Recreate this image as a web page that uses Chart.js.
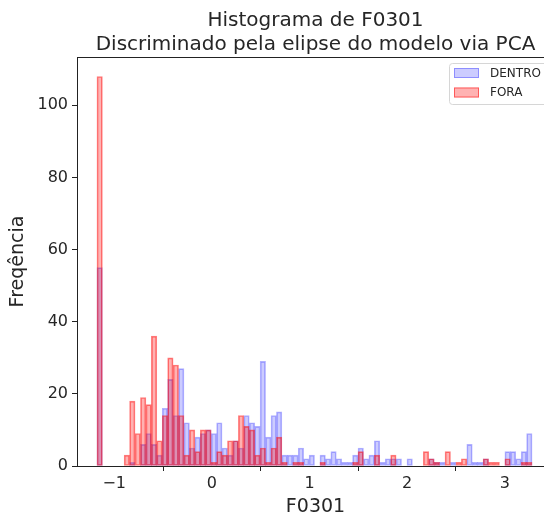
<!DOCTYPE html>
<html>
<head>
<meta charset="utf-8">
<script src="https://cdn.jsdelivr.net/npm/chart.js@4.4.1/dist/chart.umd.min.js"></script>
<style>
  html, body { margin: 0; padding: 0; overflow: hidden; background: #fff; }
  #wrap { width: 570px; height: 518px; }
</style>
</head>
<body>
<div id="wrap"><canvas id="stage"></canvas></div>
<script>
//「classes do histograma」 80 bins
var binStart = -1.1766;
var binWidth = 0.0557;

var dentro = [
  55, 0, 0, 0, 0, 0, 1, 0, 6, 9,
  6, 3, 16, 24, 14, 27, 12, 5, 8, 9,
  10, 9, 12, 5, 3, 7, 5, 14, 12, 11,
  29, 8, 14, 15, 3, 3, 3, 5, 2, 3,
  0, 3, 2, 4, 2, 1, 1, 3, 5, 2,
  3, 7, 1, 2, 2, 2, 0, 2, 0, 0,
  0, 2, 1, 1, 0, 1, 0, 0, 6, 1,
  1, 2, 0, 0, 0, 4, 4, 2, 4, 9
];
var fora = [
  108, 0, 0, 0, 0, 3, 18, 9, 19, 17,
  36, 7, 14, 30, 28, 14, 3, 10, 4, 10,
  10, 1, 4, 3, 7, 7, 14, 11, 10, 3,
  5, 1, 5, 8, 1, 0, 1, 1, 0, 0,
  0, 1, 0, 0, 0, 0, 0, 1, 4, 0,
  0, 3, 0, 0, 3, 0, 0, 0, 0, 0,
  4, 2, 1, 0, 4, 0, 1, 2, 0, 0,
  0, 2, 1, 1, 0, 2, 0, 0, 1, 1
];
var xTicks = [-1, 0, 1, 2, 3];
var yTicks = [0, 20, 40, 60, 80, 100];

// centro de cada classe
var centros = dentro.map(function (_, i) {
  return +(binStart + binWidth * (i + 0.5)).toFixed(4);
});

var fonte = '"DejaVu Sans", sans-serif';
var corTexto = '#262626';

// legenda no canto superior direito, dentro do grafico
var legendaBox = {
  id: 'legendaBox',
  afterDraw: function (chart) {
    var ctx = chart.ctx, a = chart.chartArea;
    var w = 99, h = 41;
    var x0 = a.right - 6 - w, y0 = a.top + 6;
    ctx.save();
    ctx.fillStyle = 'rgba(255,255,255,0.8)';
    ctx.strokeStyle = '#d6d6d6';
    ctx.lineWidth = 1;
    ctx.beginPath();
    ctx.roundRect(x0 + 0.5, y0 + 0.5, w, h, 3);
    ctx.fill();
    ctx.stroke();
    ctx.font = '12px ' + fonte;
    ctx.textBaseline = 'middle';
    chart.data.datasets.forEach(function (ds, i) {
      var sy = y0 + 5 + i * 19.5;
      ctx.fillStyle = ds.backgroundColor;
      ctx.fillRect(x0 + 5, sy, 25, 10);
      ctx.strokeStyle = ds.borderColor;
      ctx.strokeRect(x0 + 5.5, sy + 0.5, 24, 9);
      ctx.fillStyle = corTexto;
      ctx.fillText(ds.label, x0 + 41, sy + 5.5);
    });
    ctx.restore();
  }
};

// moldura superior e direita
var moldura = {
  id: 'moldura',
  afterDraw: function (chart) {
    var ctx = chart.ctx, a = chart.chartArea;
    ctx.save();
    ctx.strokeStyle = '#222';
    ctx.lineWidth = 1;
    ctx.beginPath();
    ctx.moveTo(a.left, Math.round(a.top) + 0.5);
    ctx.lineTo(Math.round(a.right) + 0.5, Math.round(a.top) + 0.5);
    ctx.lineTo(Math.round(a.right) + 0.5, a.bottom);
    ctx.stroke();
    ctx.restore();
  }
};

var canvas = document.getElementById('stage');
var chart = new Chart(canvas, {
  type: 'bar',
  data: {
    labels: centros,
    datasets: [
      {
        label: 'DENTRO',
        data: dentro,
        backgroundColor: 'rgba(0, 0, 255, 0.2)',
        borderColor: 'rgba(0, 0, 255, 0.3)',
        borderWidth: 1,
        borderSkipped: false,
        order: 1
      },
      {
        label: 'FORA',
        data: fora,
        backgroundColor: 'rgba(255, 0, 0, 0.3)',
        borderColor: 'rgba(255, 0, 0, 0.5)',
        borderWidth: 1,
        borderSkipped: false,
        order: 0
      }
    ]
  },
  options: {
    responsive: true,
    maintainAspectRatio: false,
    animation: false,
    grouped: false,
    barPercentage: 1,
    categoryPercentage: 1,
    layout: { padding: { left: 0, right: 16, top: 0, bottom: 0 } },
    plugins: {
      legend: { display: false },
      tooltip: { enabled: false },
      title: {
        display: true,
        fullSize: false,
        text: ['Histograma de F0301', 'Discriminado pela elipse do modelo via PCA'],
        color: corTexto,
        font: { family: fonte, size: 20, weight: 'normal', lineHeight: 1.2 },
        padding: { top: 9, bottom: 0 }
      }
    },
    scales: {
      x: {
        type: 'linear',
        min: -1.381,
        max: 3.504,
        offset: false,
        afterFit: function (s) { s.height = 52; },
        afterBuildTicks: function (s) {
          s.ticks = xTicks.map(function (v) { return { value: v }; });
        },
        ticks: {
          color: corTexto,
          font: { family: fonte, size: 16 },
          padding: 3,
          maxRotation: 0,
          callback: function (v) { return String(v).replace('-', '\u2212'); }
        },
        grid: { display: true, drawOnChartArea: false, drawTicks: true, tickLength: 5, color: '#222' },
        border: { display: true, color: '#222', width: 1 },
        title: {
          display: true,
          text: 'F0301',
          color: corTexto,
          font: { family: fonte, size: 19 },
          padding: { top: 0, bottom: 0 }
        }
      },
      y: {
        min: 0,
        max: 113.4,
        afterFit: function (s) { s.width = 77; },
        afterBuildTicks: function (s) {
          s.ticks = yTicks.map(function (v) { return { value: v }; });
        },
        ticks: {
          color: corTexto,
          font: { family: fonte, size: 16 },
          padding: 4
        },
        grid: { display: true, drawOnChartArea: false, drawTicks: true, tickLength: 5, color: '#222' },
        border: { display: true, color: '#222', width: 1 },
        title: {
          display: true,
          text: 'Freqência',
          color: corTexto,
          font: { family: fonte, size: 19 },
          padding: { top: 7, bottom: 0 }
        }
      }
    }
  },
  plugins: [legendaBox, moldura]
});
</script>
</body>
</html>
